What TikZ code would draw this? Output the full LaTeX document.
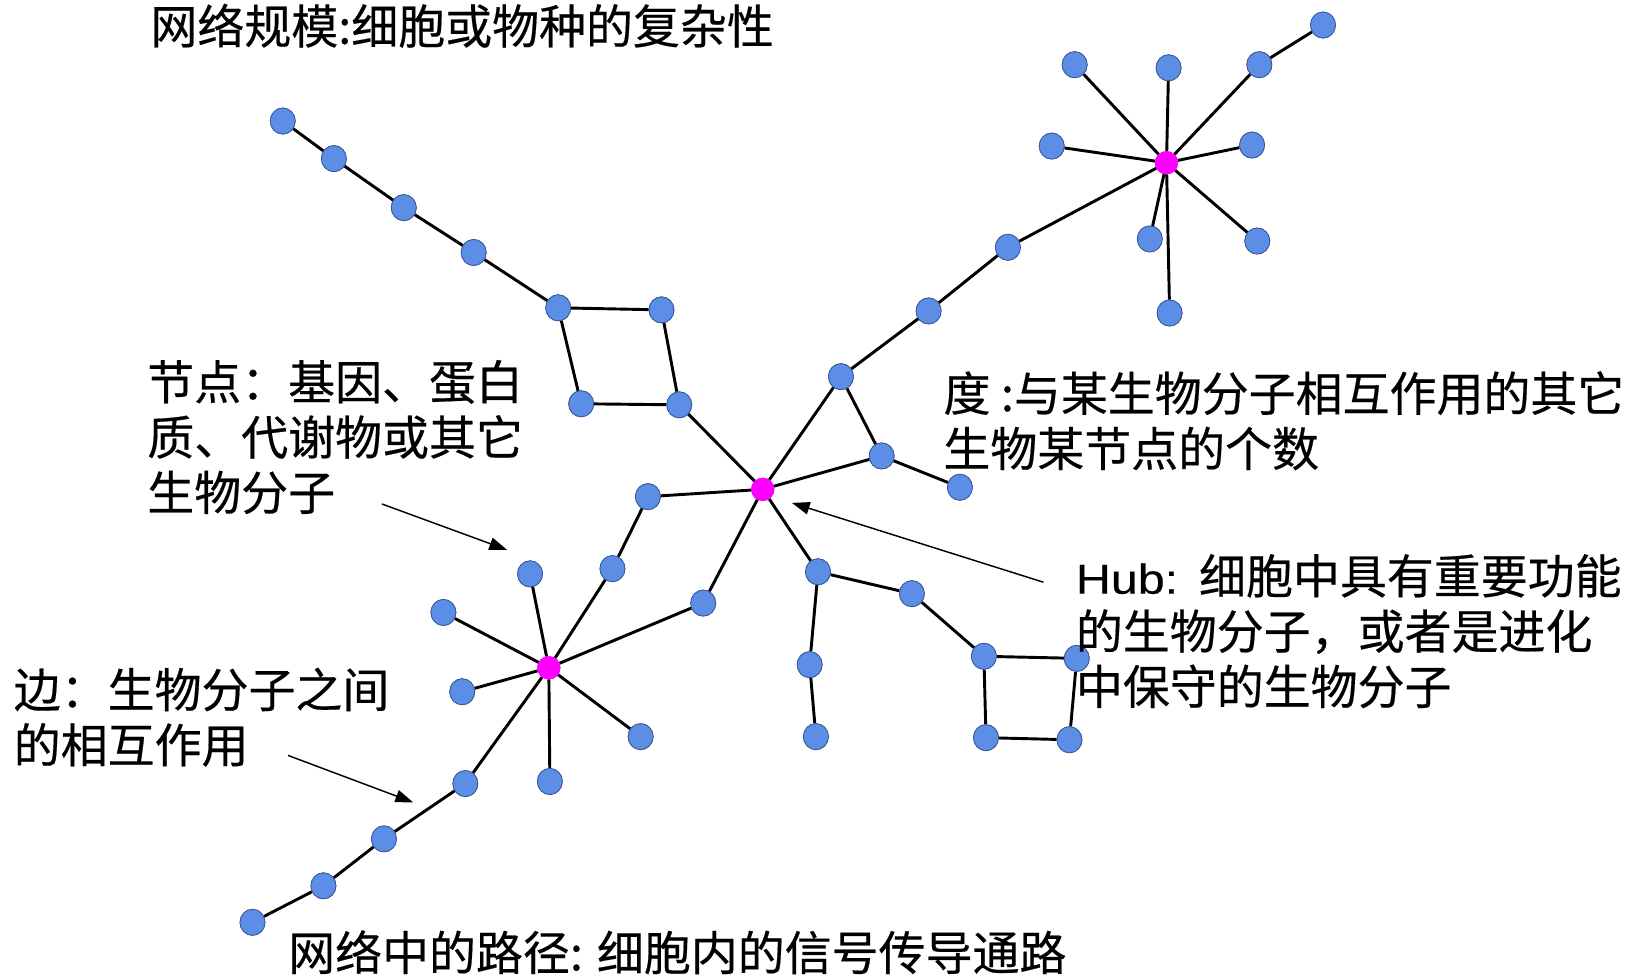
\documentclass[tikz,border=0pt]{standalone}
\usepackage{fontspec}
\setmainfont{Noto Sans CJK SC}[FakeBold=0.4]
\newfontfamily\latinfont{Liberation Sans}[FakeBold=0.3]
\usetikzlibrary{shapes.geometric,arrows.meta}
\definecolor{nodeblue}{RGB}{92,142,230}
\definecolor{nodeedge}{RGB}{55,85,150}
\definecolor{hubpink}{RGB}{255,0,255}
\begin{document}
\begin{tikzpicture}[x=1pt,y=-1pt,
  bn/.style={ellipse,inner sep=0pt,minimum width=24pt,minimum height=25pt,fill=nodeblue,draw=nodeedge,line width=0.7pt},
  hubnode/.style={circle,inner sep=0pt,minimum size=22pt,fill=hubpink,draw=hubpink,line width=0.4pt},
  edge/.style={line width=2.8pt,black},
  pointer/.style={line width=1.4pt,black,-{Triangle[length=17pt,width=12pt]}},
  lbl/.style={anchor=base west,inner sep=0pt,align=left,font=\fontsize{45}{53}\selectfont}]
\useasboundingbox (0,0) rectangle (1568,936);
% hubs
\node[hubnode] (H1) at (731,469) {};
\node[hubnode] (H2) at (1118,156) {};
\node[hubnode] (H3) at (526,640) {};
% top-left chain
\node[bn] (a1) at (271,116) {};
\node[bn] (a2) at (320,152) {};
\node[bn] (a3) at (387,199) {};
\node[bn] (a4) at (454,242) {};
\node[bn] (s1) at (535,295) {};
\node[bn] (s2) at (634,297) {};
\node[bn] (s3) at (557,387) {};
\node[bn] (s4) at (651,388) {};
% triangle and chain to H2
\node[bn] (b1) at (806,361) {};
\node[bn] (b2) at (845,437) {};
\node[bn] (b3) at (920,467) {};
\node[bn] (c1) at (890,298) {};
\node[bn] (c2) at (966,237) {};
% H2 leaves
\node[bn] (d1) at (1030,62) {};
\node[bn] (d2) at (1120,65) {};
\node[bn] (d3) at (1207,62) {};
\node[bn] (d4) at (1268,24) {};
\node[bn] (d5) at (1008,140) {};
\node[bn] (d6) at (1200,139) {};
\node[bn] (d7) at (1102,229) {};
\node[bn] (d8) at (1205,231) {};
\node[bn] (d9) at (1121,300) {};
% lower right
\node[bn] (e1) at (784,548) {};
\node[bn] (e2) at (874,569) {};
\node[bn] (f1) at (943,629) {};
\node[bn] (f2) at (1032,631) {};
\node[bn] (f3) at (945,707) {};
\node[bn] (f4) at (1025,709) {};
\node[bn] (g1) at (776,637) {};
\node[bn] (g2) at (782,706) {};
% to H3
\node[bn] (h1) at (621,476) {};
\node[bn] (h2) at (587,545) {};
\node[bn] (h3) at (674,578) {};
% H3 leaves
\node[bn] (k1) at (508,550) {};
\node[bn] (k2) at (425,587) {};
\node[bn] (k3) at (443,663) {};
\node[bn] (k4) at (614,706) {};
\node[bn] (k5) at (527,749) {};
\node[bn] (p1) at (446,751) {};
\node[bn] (p2) at (368,804) {};
\node[bn] (p3) at (310,849) {};
\node[bn] (p4) at (242,884) {};
% edges
\draw[edge] (a1) -- (a2) -- (a3) -- (a4) -- (s1);
\draw[edge] (s1) -- (s2) (s1) -- (s3) (s2) -- (s4) (s3) -- (s4) (s4) -- (H1);
\draw[edge] (H1) -- (b1) (H1) -- (b2) (b1) -- (b2) (b2) -- (b3);
\draw[edge] (b1) -- (c1) -- (c2) -- (H2);
\draw[edge] (H2) -- (d1) (H2) -- (d2) (H2) -- (d3) (d3) -- (d4) (H2) -- (d5) (H2) -- (d6) (H2) -- (d7) (H2) -- (d8) (H2) -- (d9);
\draw[edge] (H1) -- (e1) -- (e2) -- (f1);
\draw[edge] (f1) -- (f2) (f1) -- (f3) (f2) -- (f4) (f3) -- (f4);
\draw[edge] (e1) -- (g1) -- (g2);
\draw[edge] (H1) -- (h1) -- (h2) -- (H3);
\draw[edge] (H1) -- (h3) -- (H3);
\draw[edge] (H3) -- (k1) (H3) -- (k2) (H3) -- (k3) (H3) -- (k4) (H3) -- (k5);
\draw[edge] (H3) -- (p1) -- (p2) -- (p3) -- (p4);
% redraw nodes on top
\foreach \n in {a1,a2,a3,a4,s1,s2,s3,s4,b1,b2,b3,c1,c2,d1,d2,d3,d4,d5,d6,d7,d8,d9,e1,e2,f1,f2,f3,f4,g1,g2,h1,h2,h3,k1,k2,k3,k4,k5,p1,p2,p3,p4}
  \path[fill=nodeblue,draw=nodeedge,line width=0.7pt] (\n.center) ellipse [x radius=12pt,y radius=12.5pt];
\foreach \n in {H1,H2,H3}
  \path[fill=hubpink] (\n.center) circle [radius=11pt];
% labels (base anchor = baseline of last line)
\node[lbl] (t1) at (144,42) {网络规模:细胞或物种的复杂性};
\node[lbl] (t2) at (141,489) {节点：基因、蛋白\\质、代谢物或其它\\生物分子};
\node[lbl] (t3) at (904,447) {度 :与某生物分子相互作用的其它\\生物某节点的个数};
\node[lbl] (t4) at (1031,675) {{\latinfont\fontsize{40}{53}\selectfont\scalebox{1.16}[1]{Hub:}}\hspace{20pt}细胞中具有重要功能\\的生物分子，或者是进化\\中保守的生物分子};
\node[lbl] (t5) at (13,731) {边：生物分子之间\\的相互作用};
\node[lbl] (t6) at (276,930) {网络中的路径: 细胞内的信号传导通路};
% pointer arrows
\coordinate (q1s) at (366,483); \coordinate (q1e) at (486,527);
\coordinate (q2s) at (276,724); \coordinate (q2e) at (396,769);
\coordinate (q3s) at (1000,558); \coordinate (q3e) at (759,482);
\draw[pointer] (q1s) -- (q1e);
\draw[pointer] (q2s) -- (q2e);
\draw[pointer] (q3s) -- (q3e);
\end{tikzpicture}
\end{document}
